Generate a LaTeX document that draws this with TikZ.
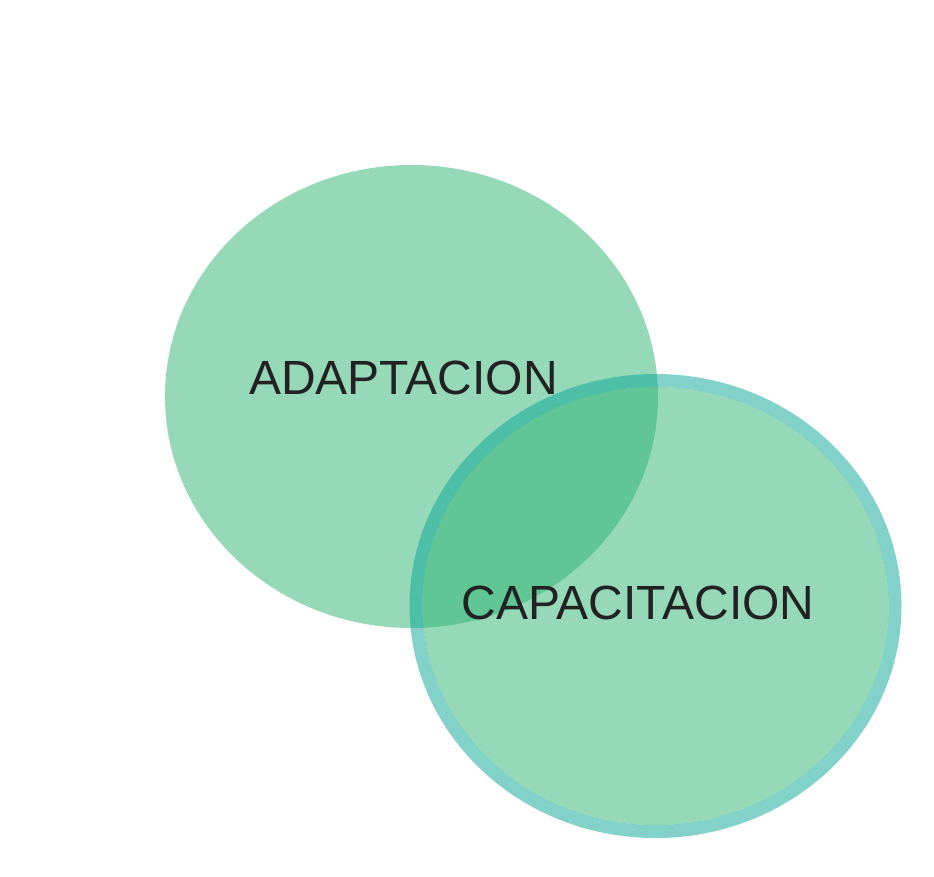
\documentclass[tikz,border=0pt]{standalone}
\usepackage{fontspec}
\setmainfont{Liberation Sans}
\definecolor{blobgreen}{RGB}{44,181,115}
\definecolor{ringteal}{RGB}{9,167,151}
\definecolor{inktext}{RGB}{34,34,34}
\tikzset{
  blob/.style={fill=blobgreen, fill opacity=0.5, draw=none},
  ring/.style={draw=ringteal, draw opacity=0.5, line width=13pt, fill=none},
  lbl/.style={text=inktext, inner sep=0pt, anchor=base, font=\fontsize{48}{52}\selectfont}
}
\begin{document}
\begin{tikzpicture}[x=1pt,y=-1pt]
\useasboundingbox (0,0) rectangle (934,877);
\fill[white] (0,0) rectangle (934,877);
\path[blob] (411.5,396.5) ellipse [x radius=246.5, y radius=231.5];
\path[blob] (655.5,606) ellipse [x radius=233, y radius=219];
\path[ring] (655.5,606) ellipse [x radius=239.5, y radius=225.5];
\node[lbl] (adapt) at (403.5,394) {ADAPTACION};
\node[lbl] (capac) at (638,619) {CAPACITACION};
\end{tikzpicture}
\end{document}
